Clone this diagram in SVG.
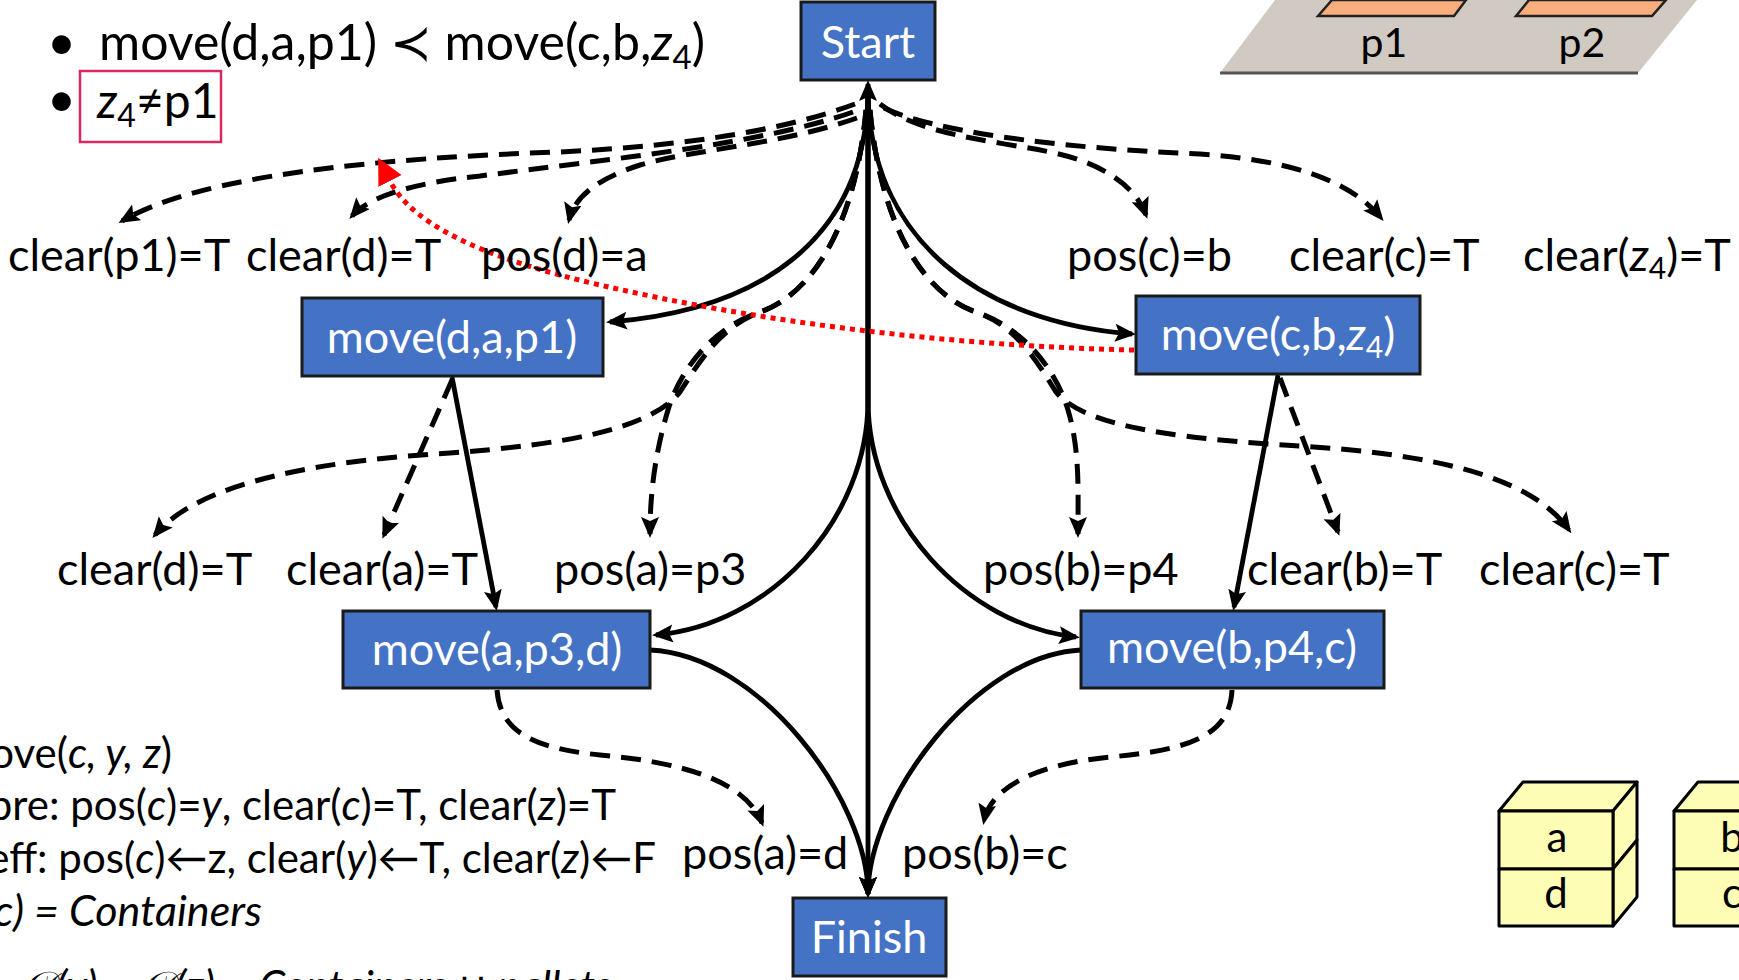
<svg xmlns="http://www.w3.org/2000/svg" width="1739" height="980" viewBox="0 0 1739 980">
<defs>
<style>
  .txt{font-family:Lato,"Open Sans","DejaVu Sans",sans-serif;fill:#000}
  .node rect{fill:#4472c4;stroke:#1a1a1a;stroke-width:3}
  .node text{font-family:Lato,"Open Sans","DejaVu Sans",sans-serif;fill:#fff;font-size:45px;text-anchor:middle}
  .lbl{font-size:45px}
  .big{font-size:50px}
  .note{font-size:42px}
  .it{font-style:italic}
  .solid{fill:none;stroke:#000;stroke-width:4.8}
  .dash{fill:none;stroke:#000;stroke-width:5;stroke-dasharray:20 11}
  .dot{fill:none;stroke:#ff0000;stroke-width:5;stroke-dasharray:5 5}
  .crate{fill:#fdfdb5;stroke:#000;stroke-width:3;stroke-linejoin:round}
  .pad{fill:#f9ad7d;stroke:#222;stroke-width:2.5}
</style>
<marker id="arr" markerUnits="userSpaceOnUse" markerWidth="24" markerHeight="20" refX="17" refY="9" orient="auto">
  <path d="M0,0 L21,9 L0,18 L4,9 z" fill="#000"/>
</marker>
<marker id="arrS" markerUnits="userSpaceOnUse" markerWidth="24" markerHeight="20" refX="17" refY="9" orient="auto-start-reverse">
  <path d="M0,0 L21,9 L0,18 L4,9 z" fill="#000"/>
</marker>
<marker id="arrRed" markerUnits="userSpaceOnUse" markerWidth="28" markerHeight="28" refX="0" refY="13" orient="auto">
  <path d="M0,0 L26,13 L0,26 z" fill="#ff0000"/>
</marker>
</defs>
<rect width="1739" height="980" fill="#fff"/>

<!-- ordering constraint notes -->
<g id="notes" class="txt">
  <text x="47" y="60" class="big">•</text>
  <text x="99" y="60" class="big">move(d,a,p1) ≺ move(c,b,<tspan class="it">z</tspan><tspan font-size="33" dy="9">4</tspan><tspan dy="-9">)</tspan></text>
  <text x="47" y="117" class="big">•</text>
  <rect x="80" y="71" width="141" height="71" fill="none" stroke="#d9295f" stroke-width="2.5"/>
  <text x="97" y="118" font-size="48"><tspan class="it">z</tspan><tspan font-size="32" dy="9">4</tspan><tspan dy="-9">≠p1</tspan></text>
</g>

<!-- pallet platform -->
<g id="platform">
  <polygon points="1220,73 1275,0 1697,0 1638,73" fill="#d0cac3"/>
  <line x1="1220" y1="73" x2="1638" y2="73" stroke="#555" stroke-width="3"/>
  <polygon class="pad" points="1318,16 1332,0 1466,0 1454,16"/>
  <polygon class="pad" points="1516,16 1529,0 1666,0 1652,16"/>
  <text class="txt" x="1384" y="57" font-size="41" text-anchor="middle">p1</text>
  <text class="txt" x="1582" y="57" font-size="41" text-anchor="middle">p2</text>
</g>

<!-- connectors -->
<g id="connectors">
  <!-- ordering links (solid) -->
  <path class="solid" d="M868,95 C864,240 760,310 610,322" marker-end="url(#arr)"/>
  <path class="solid" d="M868,95 C872,240 980,322 1132,334" marker-end="url(#arr)"/>
  <path class="solid" d="M868,95 L868,400 C868,520 770,625 656,635" marker-end="url(#arr)"/>
  <path class="solid" d="M868,95 L868,400 C868,520 966,625 1076,637" marker-end="url(#arr)"/>
  <path class="solid" d="M868,84 L868,894" marker-start="url(#arrS)" marker-end="url(#arr)"/>
  <path class="solid" d="M650,650 C760,655 868,800 868,894" marker-end="url(#arr)"/>
  <path class="solid" d="M1081,650 C975,655 868,800 868,894" marker-end="url(#arr)"/>
  <path class="solid" d="M452,377 L496,607" marker-end="url(#arr)"/>
  <path class="solid" d="M1278,375 L1234,607" marker-end="url(#arr)"/>

  <!-- causal links (dashed) -->
  <path class="dash" d="M855,104 C790,128 700,145 560,152 C380,158 200,175 122,221" marker-end="url(#arr)"/>
  <path class="dash" d="M853,112 C760,145 600,160 480,176 C420,182 370,195 352,216" marker-end="url(#arr)"/>
  <path class="dash" d="M857,118 C780,145 690,150 640,165 C600,178 575,195 569,220" marker-end="url(#arr)"/>
  <path class="dash" d="M880,104 C920,135 990,140 1050,152 C1100,162 1135,185 1146,215" marker-end="url(#arr)"/>
  <path class="dash" d="M884,108 C930,130 1050,148 1200,154 C1290,160 1350,180 1381,218" marker-end="url(#arr)"/>
  <path class="dash" d="M866,110 C855,230 810,295 760,312 C712,328 680,370 668,410 C656,450 650,490 650,534" marker-end="url(#arr)"/>
  <path class="dash" d="M866,110 C855,230 810,295 760,312 C722,326 700,360 680,392 C650,430 560,445 450,453 C330,460 200,480 155,535" marker-end="url(#arr)"/>
  <path class="dash" d="M870,110 C881,230 926,295 976,312 C1024,328 1056,370 1068,410 C1080,450 1078,490 1078,534" marker-end="url(#arr)"/>
  <path class="dash" d="M870,110 C881,230 926,295 976,312 C1016,326 1036,360 1056,392 C1086,430 1200,440 1300,446 C1430,454 1530,475 1569,530" marker-end="url(#arr)"/>
  <path class="dash" d="M452,380 L384,535" marker-end="url(#arr)"/>
  <path class="dash" d="M1280,378 L1338,532" marker-end="url(#arr)"/>
  <path class="dash" d="M497,690 C500,730 530,748 600,755 C680,762 745,780 762,823" marker-end="url(#arr)"/>
  <path class="dash" d="M1232,690 C1230,735 1190,750 1110,757 C1030,765 990,790 984,821" marker-end="url(#arr)"/>

  <!-- threat (dotted red) -->
  <path class="dot" d="M1134,350 C950,346 760,322 600,285 C500,262 415,230 390,181" marker-end="url(#arrRed)"/>
</g>

<!-- condition labels -->
<g id="labels" class="txt lbl">
  <text x="8" y="271">clear(p1)=T</text>
  <text x="246" y="271">clear(d)=T</text>
  <text x="481" y="271">pos(d)=a</text>
  <text x="1067" y="271">pos(c)=b</text>
  <text x="1289" y="271">clear(c)=T</text>
  <text x="1523" y="271">clear(<tspan class="it">z</tspan><tspan font-size="30" dy="8">4</tspan><tspan dy="-8">)=T</tspan></text>
  <text x="57" y="585">clear(d)=T</text>
  <text x="286" y="585">clear(a)=T</text>
  <text x="554" y="585">pos(a)=p3</text>
  <text x="983" y="585">pos(b)=p4</text>
  <text x="1247" y="585">clear(b)=T</text>
  <text x="1479" y="585">clear(c)=T</text>
  <text x="682" y="869">pos(a)=d</text>
  <text x="902" y="869">pos(b)=c</text>
</g>

<!-- plan steps -->
<g id="start" class="node"><rect x="801" y="2" width="134" height="78"/><text x="868" y="58">Start</text></g>
<g id="move-d-a-p1" class="node"><rect x="302" y="298" width="301" height="78"/><text x="452" y="353">move(d,a,p1)</text></g>
<g id="move-c-b-z4" class="node"><rect x="1136" y="296" width="284" height="78"/><text x="1278" y="350">move(c,b,<tspan font-style="italic">z</tspan><tspan font-size="30" dy="8">4</tspan><tspan dy="-8">)</tspan></text></g>
<g id="move-a-p3-d" class="node"><rect x="343" y="611" width="307" height="77"/><text x="497" y="665">move(a,p3,d)</text></g>
<g id="move-b-p4-c" class="node"><rect x="1081" y="611" width="303" height="77"/><text x="1232" y="663">move(b,p4,c)</text></g>
<g id="finish" class="node"><rect x="793" y="898" width="153" height="78"/><text x="869" y="953">Finish</text></g>

<!-- action schema -->
<g id="schema" class="txt note" text-anchor="end">
  <text x="172" y="768">move(<tspan class="it">c, y, z</tspan>)</text>
  <text x="616" y="820">pre: pos(<tspan class="it">c</tspan>)=<tspan class="it">y</tspan>, clear(<tspan class="it">c</tspan>)=T, clear(<tspan class="it">z</tspan>)=T</text>
  <text x="656" y="873">eff: pos(<tspan class="it">c</tspan>)←z, clear(<tspan class="it">y</tspan>)←T, clear(<tspan class="it">z</tspan>)←F</text>
  <text x="262" y="926" class="it" font-size="43">𝒟(c) = Containers</text>
  <text x="612" y="1001" class="it">𝒟(y) = 𝒟(z) = Containers ∪ pallets</text>
</g>

<!-- container stacks -->
<g id="stack-a-d">
  <polygon class="crate" points="1499,811 1523,782 1637,782 1613,811"/>
  <polygon class="crate" points="1613,811 1637,782 1637,840 1613,869"/>
  <polygon class="crate" points="1613,869 1637,840 1637,897 1613,926"/>
  <rect class="crate" x="1499" y="811" width="114" height="58"/>
  <rect class="crate" x="1499" y="869" width="114" height="57"/>
  <text class="txt" x="1557" y="852" font-size="42" text-anchor="middle">a</text>
  <text class="txt" x="1556" y="908" font-size="42" text-anchor="middle">d</text>
</g>
<g id="stack-b-c">
  <polygon class="crate" points="1674,811 1698,782 1812,782 1788,811"/>
  <rect class="crate" x="1674" y="811" width="114" height="58"/>
  <rect class="crate" x="1674" y="869" width="114" height="57"/>
  <text class="txt" x="1732" y="852" font-size="42" text-anchor="middle">b</text>
  <text class="txt" x="1732" y="908" font-size="42" text-anchor="middle">c</text>
</g>
</svg>
